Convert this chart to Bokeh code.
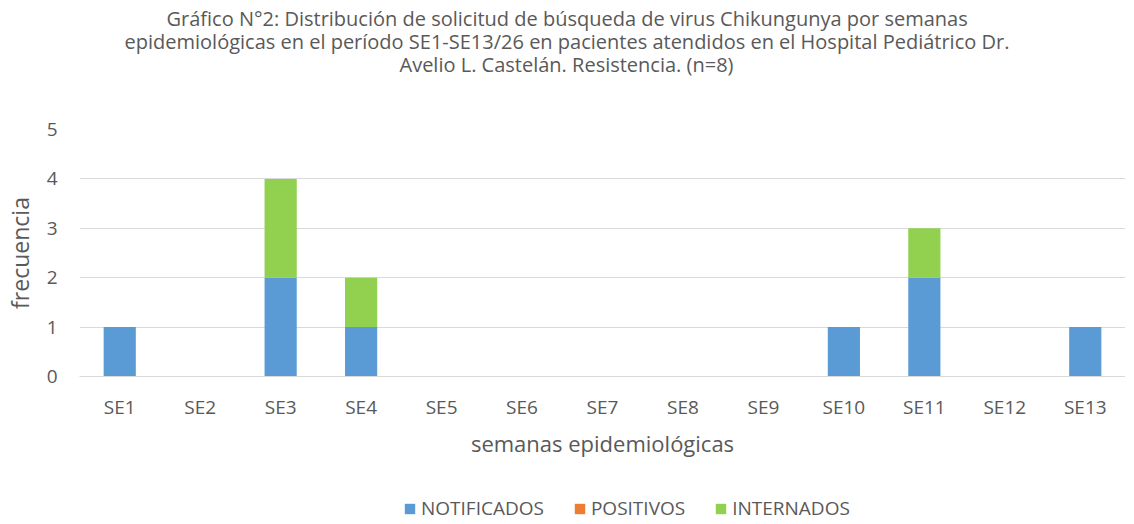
from bokeh.plotting import figure
from bokeh.models import Legend, LegendItem, ColumnDataSource, Title, Range1d
from bokeh.layouts import column
from bokeh.embed import file_html
from bokeh.resources import INLINE

weeks = ["SE1", "SE2", "SE3", "SE4", "SE5", "SE6", "SE7", "SE8", "SE9", "SE10", "SE11", "SE12", "SE13"]
notificados = [1, 0, 2, 1, 0, 0, 0, 0, 0, 1, 2, 0, 1]
positivos = [0, 0, 0, 0, 0, 0, 0, 0, 0, 0, 0, 0, 0]
internados = [0, 0, 2, 1, 0, 0, 0, 0, 0, 0, 1, 0, 0]
series = ["NOTIFICADOS", "POSITIVOS", "INTERNADOS"]
colors = ["#5B9BD5", "#ED7D31", "#92D050"]
title_lines = [
    "Gráfico N°2: Distribución de solicitud de búsqueda de virus Chikungunya por semanas",
    "epidemiológicas en el período SE1-SE13/26 en pacientes atendidos en el Hospital Pediátrico Dr.",
    "Avelio L. Castelán. Resistencia. (n=8)",
]
# horizontal offsets (px from plot-area left) that centre each title line on the whole chart
title_offsets = [87, 45, 320]

FONT = "Open Sans"
TXT = "#595959"

src = ColumnDataSource(dict(week=weeks, NOTIFICADOS=notificados, POSITIVOS=positivos, INTERNADOS=internados))

p = figure(x_range=weeks, y_range=(0, 5), frame_width=1046, frame_height=247,
           output_backend="svg", toolbar_location=None,
           min_border_left=79, min_border_right=0, min_border_top=0, min_border_bottom=0)
p.outline_line_color = None

r = p.vbar_stack(series, x="week", width=0.4, color=colors, source=src, line_color=None)

# spacer between title block and plot area
p.add_layout(Title(text=" ", text_font_size="1px", standoff=52), "above")
for t, off in zip(reversed(title_lines), reversed(title_offsets)):
    p.add_layout(Title(text=t, align="left", offset=off, text_font=FONT, text_font_size="20px",
                       text_color=TXT, text_font_style="normal", standoff=-6), "above")
# small spacer at the very top
p.add_layout(Title(text=" ", text_font_size="1px", standoff=2), "above")

p.yaxis.ticker = [0, 1, 2, 3, 4, 5]
p.yaxis.axis_line_color = None
p.yaxis.major_tick_line_color = None
p.yaxis.minor_tick_line_color = None
p.yaxis.major_tick_out = 0
p.yaxis.major_label_text_font = FONT
p.yaxis.major_label_text_font_size = "19px"
p.yaxis.major_label_text_color = TXT
p.yaxis.axis_label = "frecuencia"
p.yaxis.axis_label_text_font = FONT
p.yaxis.axis_label_text_font_size = "23px"
p.yaxis.axis_label_text_font_style = "normal"
p.yaxis.axis_label_text_color = TXT
p.yaxis.major_label_standoff = 22
p.yaxis.axis_label_standoff = 8

p.xaxis.axis_line_color = "#d9d9d9"
p.xaxis.axis_line_width = 1
p.xaxis.major_tick_line_color = None
p.xaxis.minor_tick_line_color = None
p.xaxis.major_tick_out = 0
p.xaxis.major_label_text_font = FONT
p.xaxis.major_label_text_font_size = "19px"
p.xaxis.major_label_text_color = TXT
p.xaxis.major_label_standoff = 17
p.xaxis.axis_label = "semanas epidemiológicas"
p.xaxis.axis_label_text_font = FONT
p.xaxis.axis_label_text_font_size = "22px"
p.xaxis.axis_label_text_font_style = "normal"
p.xaxis.axis_label_text_color = TXT
p.xaxis.axis_label_standoff = 5

p.xgrid.grid_line_color = None
p.ygrid.grid_line_color = "#d9d9d9"
p.ygrid.grid_line_width = 1

# legend strip below the chart
leg = figure(width=1125, height=70, x_range=Range1d(0, 1), y_range=Range1d(0, 1),
             output_backend="svg", toolbar_location=None,
             min_border_left=0, min_border_right=0, min_border_top=0, min_border_bottom=0)
leg.outline_line_color = None
leg.xaxis.visible = False
leg.yaxis.visible = False
leg.xgrid.visible = False
leg.ygrid.visible = False
swatches = [leg.vbar(x=[0.5], top=[0], bottom=[0], width=0, color=c, line_color=None) for c in colors]

legend = Legend(items=[LegendItem(label=s, renderers=[rr]) for s, rr in zip(series, swatches)],
                orientation="horizontal", location=(324, 9),
                label_text_font=FONT, label_text_font_size="19px", label_text_color=TXT,
                glyph_width=13, glyph_height=13, spacing=29, label_standoff=5,
                border_line_color=None, background_fill_alpha=0, padding=0, margin=0)
leg.add_layout(legend, "center")

open("out.html", "w").write(file_html(column(p, leg), INLINE))
